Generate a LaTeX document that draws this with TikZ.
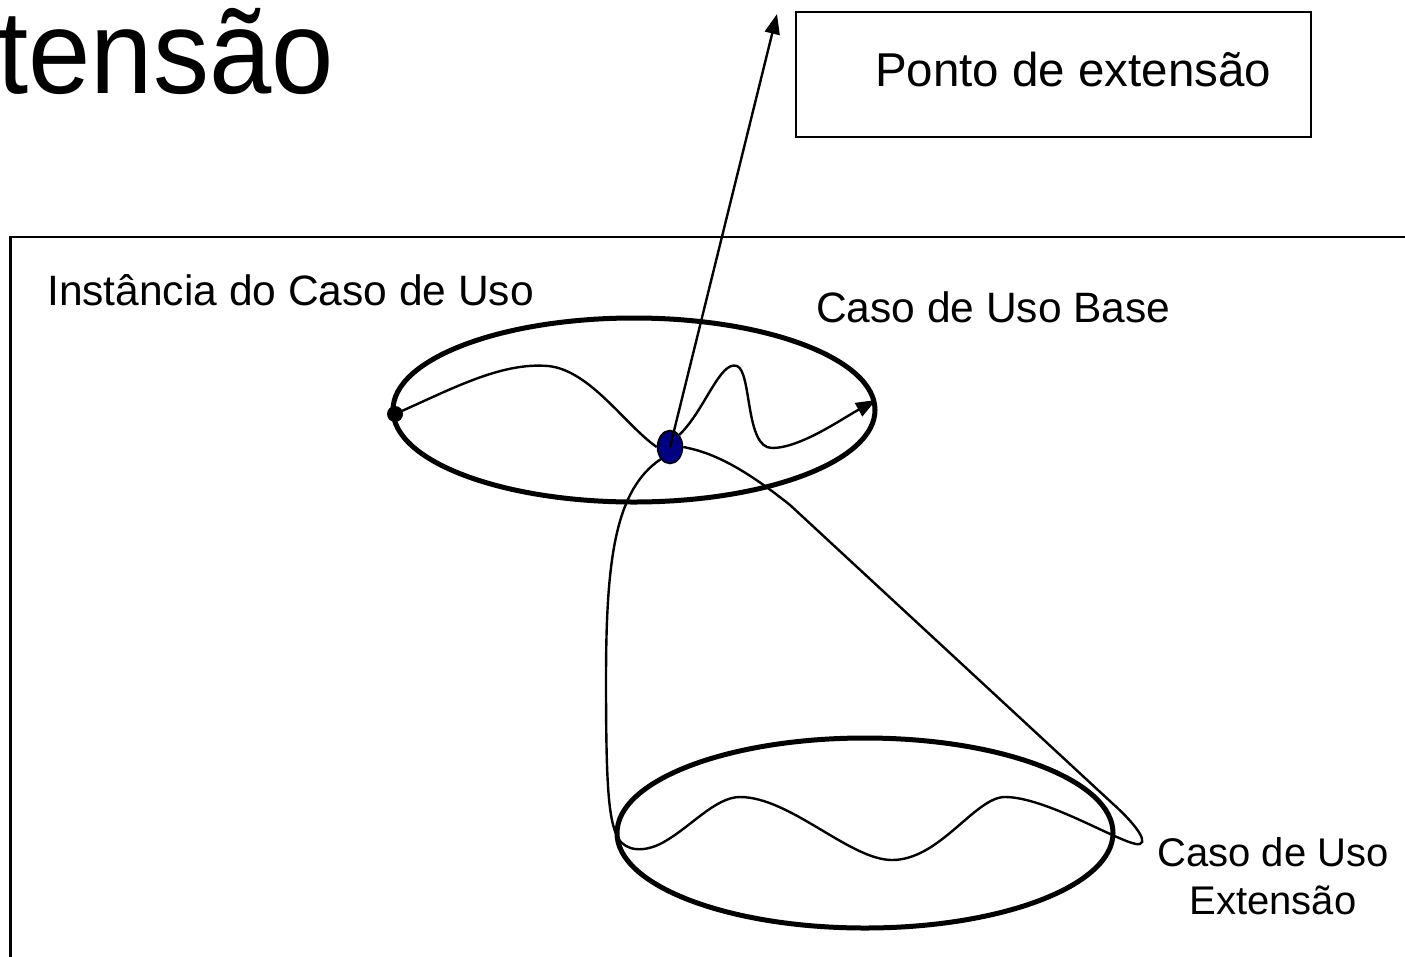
\documentclass[tikz,border=0pt]{standalone}
\usepackage{fontspec}
\setmainfont{Liberation Sans}
\usetikzlibrary{shapes.geometric,arrows.meta}
\definecolor{ink}{HTML}{000000}
\definecolor{navy}{HTML}{000080}
\begin{document}
\begin{tikzpicture}[x=1pt,y=-1pt,
  lbl/.style={inner sep=0pt, font=\fontsize{42.5}{48}\selectfont},
  uc/.style={draw=ink, ellipse, line width=5pt, inner sep=0pt},
  flow/.style={draw=ink, line width=2.4pt},
  tip/.style={-{Triangle[length=20pt,width=15pt]}}]
  \useasboundingbox (0,0) rectangle (1405,956);
  \clip (0,0) rectangle (1405,956);
  % title
  \node[inner sep=0pt, anchor=base east, yscale=1.06, font=\fontsize{112}{126}\selectfont] (title) at (334,93) {tensão};
  % frame
  \draw[line width=2.4pt, draw=ink] (10.5,237) rectangle (1430,990);
  \node[draw=ink, line width=2.4pt, minimum width=515pt, minimum height=125pt] (ponto) at (1053.5,74.5) {};
  \node[lbl, anchor=base west, font=\fontsize{47.5}{54}\selectfont] (pontotxt) at (875,86) {Ponto de extensão};
  \node[lbl, anchor=base west] (inst) at (47,305) {Instância do Caso de Uso};
  \node[lbl, anchor=base west] (base) at (816,322) {Caso de Uso Base};
  \node[lbl, anchor=north, align=center, font=\fontsize{40}{48}\selectfont] (ext) at (1273,837) {Caso de Uso\\Extensão};
  % use cases
  \node[uc, minimum width=482pt, minimum height=184pt] (ucbase) at (634,410) {};
  \node[uc, minimum width=496pt, minimum height=190pt] (ucext) at (865,833) {};
  \node[circle, fill=ink, inner sep=0pt, minimum size=16pt] (start) at (395,414) {};
  \node[ellipse, draw=ink, line width=1.6pt, fill=navy, inner sep=0pt, minimum width=25pt, minimum height=33pt] (pt) at (670,447) {};
  \coordinate (end) at (876,400);
  \coordinate (arr) at (777,14);
  % flow in the base use case
  \draw[flow] (start.center) .. controls (450,390) and (500,362) .. (548,366)
    .. controls (590,370) and (625,425) .. (pt.west);
  \draw[flow, tip] (pt.north east) .. controls (705,410) and (720,360) .. (737,366)
    .. controls (752,372) and (745,448) .. (772,448)
    .. controls (800,448) and (840,420) .. (end);
  \draw[flow, tip] (pt.center) -- (arr);
  % flow in the extension
  \draw[flow] (pt.south west) .. controls (615,490) and (606,560) .. (606,680)
    .. controls (606,780) and (608,820) .. (618,838)
    .. controls (626,852) and (645,852) .. (662,843)
    .. controls (690,828) and (715,797) .. (740,797)
    .. controls (790,797) and (850,860) .. (892,860)
    .. controls (940,860) and (975,797) .. (1005,797)
    .. controls (1045,797) and (1115,840) .. (1136,844)
    .. controls (1150,846) and (1140,828) .. (1112,803)
    -- (790,505) .. controls (740,465) and (710,452) .. (pt.east);
\end{tikzpicture}
\end{document}
